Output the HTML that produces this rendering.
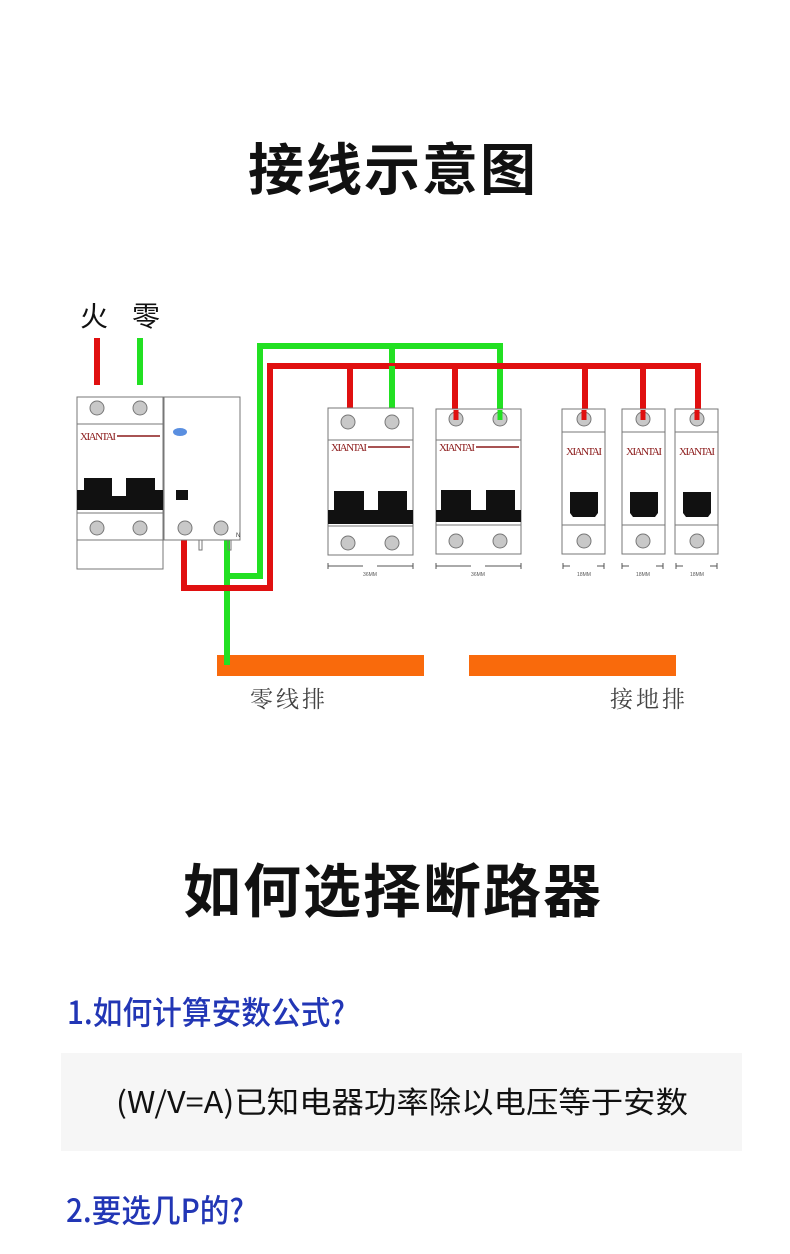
<!DOCTYPE html>
<html><head><meta charset="utf-8"><style>
html,body{margin:0;padding:0;background:#fff;}
body{width:790px;height:1254px;overflow:hidden;}
</style></head><body>
<svg width="790" height="1254" viewBox="0 0 790 1254" xmlns="http://www.w3.org/2000/svg" style="display:block">
<rect width="790" height="1254" fill="#fff"/>
<g font-family="'Noto Sans CJK SC',sans-serif">
<text x="393" y="190" text-anchor="middle" font-size="56" font-weight="bold" fill="#111" letter-spacing="2">接线示意图</text>
<text x="393" y="912" text-anchor="middle" font-size="58" font-weight="bold" fill="#111" letter-spacing="2">如何选择断路器</text>
<text x="67" y="1024" font-size="32" font-weight="500" fill="#2236b5" textLength="278" lengthAdjust="spacingAndGlyphs">1.如何计算安数公式?</text>
<rect x="61" y="1053" width="681" height="98" fill="#f6f6f6"/>
<text x="116" y="1113" font-size="30" fill="#111" textLength="572" lengthAdjust="spacingAndGlyphs">(W/V=A)已知电器功率除以电压等于安数</text>
<text x="66" y="1222" font-size="32" font-weight="500" fill="#2236b5" textLength="178" lengthAdjust="spacingAndGlyphs">2.要选几P的?</text>
<text x="80" y="326" font-size="28" fill="#111">火</text>
<text x="132" y="326" font-size="28" fill="#111">零</text>
<text x="250" y="707" font-size="23" fill="#444" font-family="'Noto Serif CJK SC',serif" letter-spacing="3">零线排</text>
<text x="610" y="707" font-size="23" fill="#444" font-family="'Noto Serif CJK SC',serif" letter-spacing="3">接地排</text>
</g>
<rect x="217" y="655" width="207" height="21" fill="#f96a0c"/>
<rect x="469" y="655" width="207" height="21" fill="#f96a0c"/>
<g fill="none" stroke-width="6" stroke-linejoin="miter">
<line x1="97" y1="338" x2="97" y2="385" stroke="#e01010"/>
<line x1="140" y1="338" x2="140" y2="385" stroke="#22e022"/>
<polyline points="227,540 227,665" stroke="#22e022"/>
<polyline points="227,576 260,576 260,346 500,346 500,420" stroke="#22e022"/>
<line x1="392" y1="346" x2="392" y2="420" stroke="#22e022"/>
<polyline points="184,540 184,588 270,588 270,366 698,366 698,420" stroke="#e01010"/>
<line x1="350" y1="366" x2="350" y2="420" stroke="#e01010"/>
<line x1="455" y1="366" x2="455" y2="420" stroke="#e01010"/>
<line x1="585" y1="366" x2="585" y2="420" stroke="#e01010"/>
<line x1="643" y1="366" x2="643" y2="420" stroke="#e01010"/>
</g>
<line x1="392" y1="366" x2="392" y2="420" stroke="#22e022" stroke-width="6"/>
<g stroke="#777" stroke-width="1" fill="#fff">
<rect x="77" y="397" width="86" height="143"/>
<line x1="77" y1="424" x2="163" y2="424"/>
<line x1="77" y1="513" x2="163" y2="513"/>
<rect x="77" y="540" width="86" height="29"/>
<rect x="164" y="397" width="76" height="143"/>
<polyline points="199,540 199,550 202,550 202,540" fill="none"/>
<polyline points="228,540 228,550 231,550 231,540" fill="none"/>
<rect x="328" y="408" width="85" height="147"/>
<line x1="328" y1="440" x2="413" y2="440"/>
<line x1="328" y1="526" x2="413" y2="526"/>
<rect x="436" y="409" width="85" height="145"/>
<line x1="436" y1="440" x2="521" y2="440"/>
<line x1="436" y1="525" x2="521" y2="525"/>
<rect x="562" y="409" width="43" height="145"/>
<line x1="562" y1="432" x2="605" y2="432"/>
<line x1="562" y1="525" x2="605" y2="525"/>
<rect x="622" y="409" width="43" height="145"/>
<line x1="622" y1="432" x2="665" y2="432"/>
<line x1="622" y1="525" x2="665" y2="525"/>
<rect x="675" y="409" width="43" height="145"/>
<line x1="675" y1="432" x2="718" y2="432"/>
<line x1="675" y1="525" x2="718" y2="525"/>
</g>
<g fill="#c8c8c8" stroke="#777" stroke-width="1">
<circle cx="97" cy="408" r="7"/><circle cx="140" cy="408" r="7"/>
<circle cx="97" cy="528" r="7"/><circle cx="140" cy="528" r="7"/>
<circle cx="185" cy="528" r="7"/><circle cx="221" cy="528" r="7"/>
<circle cx="348" cy="422" r="7"/><circle cx="392" cy="422" r="7"/>
<circle cx="348" cy="543" r="7"/><circle cx="392" cy="543" r="7"/>
<circle cx="456" cy="419" r="7"/><circle cx="500" cy="419" r="7"/>
<circle cx="456" cy="541" r="7"/><circle cx="500" cy="541" r="7"/>
<circle cx="584" cy="419" r="7"/><circle cx="584" cy="541" r="7"/>
<circle cx="643" cy="419" r="7"/><circle cx="643" cy="541" r="7"/>
<circle cx="697" cy="419" r="7"/><circle cx="697" cy="541" r="7"/>
</g>
<g stroke-width="5">
<line x1="456" y1="410" x2="456" y2="420" stroke="#e01010"/>
<line x1="500" y1="410" x2="500" y2="420" stroke="#22e022"/>
<line x1="584" y1="410" x2="584" y2="420" stroke="#e01010"/>
<line x1="643" y1="410" x2="643" y2="420" stroke="#e01010"/>
<line x1="697" y1="410" x2="697" y2="420" stroke="#e01010"/>
</g>
<g fill="#111">
<path d="M77,510 V490 H84 V478 H112 V496 H126 V478 H155 V490 H163 V510 Z"/>
<path d="M328,524 V510 H334 V491 H364 V510 H378 V491 H407 V510 H413 V524 Z"/>
<path d="M436,522 V510 H441 V490 H471 V510 H486 V490 H515 V510 H521 V522 Z"/>
<path d="M570,492 H598 V513 L595,517 H573 L570,513 Z"/>
<path d="M630,492 H658 V513 L655,517 H633 L630,513 Z"/>
<path d="M683,492 H711 V513 L708,517 H686 L683,513 Z"/>
<rect x="176" y="490" width="12" height="10"/>
</g>
<ellipse cx="180" cy="432" rx="7" ry="4" fill="#5a8fe0"/>
<text x="236" y="537" font-size="6" fill="#333" font-family="'Liberation Sans',sans-serif">N</text>
<g font-family="'Liberation Serif',serif" font-size="11" fill="#8b1a1a">
<text x="80" y="440" textLength="36">XIANTAI</text><line x1="117" y1="436" x2="160" y2="436" stroke="#8b1a1a" stroke-width="1.5"/>
<text x="331" y="451" textLength="36">XIANTAI</text><line x1="368" y1="447" x2="410" y2="447" stroke="#8b1a1a" stroke-width="1.5"/>
<text x="439" y="451" textLength="36">XIANTAI</text><line x1="476" y1="447" x2="519" y2="447" stroke="#8b1a1a" stroke-width="1.5"/>
<text x="566" y="455" textLength="36">XIANTAI</text>
<text x="626" y="455" textLength="36">XIANTAI</text>
<text x="679" y="455" textLength="36">XIANTAI</text>
</g>
<g stroke="#555" stroke-width="1" fill="none">
<path d="M328,563 v6 M328,566 h35 M377,566 h36 M413,563 v6"/>
<path d="M436,563 v6 M436,566 h35 M485,566 h36 M521,563 v6"/>
<path d="M563,563 v6 M563,566 h7 M597,566 h7 M604,563 v6"/>
<path d="M622,563 v6 M622,566 h7 M656,566 h7 M663,563 v6"/>
<path d="M676,563 v6 M676,566 h7 M710,566 h7 M717,563 v6"/>
</g>
<g font-family="'Liberation Sans',sans-serif" font-size="5" fill="#555" text-anchor="middle">
<text x="370" y="576">36MM</text><text x="478" y="576">36MM</text>
<text x="584" y="576">18MM</text><text x="643" y="576">18MM</text><text x="697" y="576">18MM</text>
</g>
</svg>
</body></html>
